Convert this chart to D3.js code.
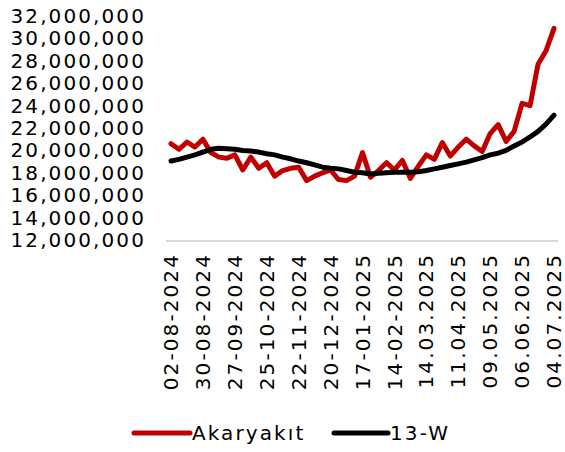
<!DOCTYPE html>
<html><head><meta charset="utf-8">
<script src="https://cdn.jsdelivr.net/npm/d3@7"></script>
<style>
html,body{margin:0;padding:0;background:#fff;}
svg{display:block;}
text{font-family:"DejaVu Sans",sans-serif;fill:#000;}
</style></head>
<body>
<script>
const dates = ["02-08-2024","09-08-2024","16-08-2024","23-08-2024","30-08-2024","06-09-2024","13-09-2024","20-09-2024","27-09-2024","04-10-2024","11-10-2024","18-10-2024","25-10-2024","01-11-2024","08-11-2024","15-11-2024","22-11-2024","29-11-2024","06-12-2024","13-12-2024","20-12-2024","27-12-2024","03-01-2025","10-01-2025","17-01-2025","24-01-2025","31-01-2025","07-02-2025","14-02-2025","21.02.2025","28.02.2025","07.03.2025","14.03.2025","21.03.2025","28.03.2025","04.04.2025","11.04.2025","18.04.2025","25.04.2025","02.05.2025","09.05.2025","16.05.2025","23.05.2025","30.05.2025","06.06.2025","13.06.2025","20.06.2025","27.06.2025","04.07.2025"];
const tickLabels = ["02-08-2024","30-08-2024","27-09-2024","25-10-2024","22-11-2024","20-12-2024","17-01-2025","14-02-2025","14.03.2025","11.04.2025","09.05.2025","06.06.2025","04.07.2025"];
const akaryakit = [20600000,20100000,20750000,20300000,21000000,19800000,19400000,19300000,19600000,18250000,19400000,18400000,18900000,17700000,18200000,18400000,18500000,17300000,17700000,18000000,18250000,17400000,17300000,17700000,19800000,17600000,18200000,18900000,18250000,19100000,17500000,18600000,19600000,19200000,20700000,19500000,20300000,21000000,20400000,19900000,21500000,22300000,20800000,21700000,24200000,24000000,27700000,28900000,30900000];
const w13 = [19050000,19200000,19400000,19600000,19850000,20100000,20200000,20150000,20100000,20000000,19950000,19850000,19700000,19600000,19400000,19250000,19050000,18900000,18700000,18500000,18400000,18350000,18200000,18050000,18000000,17900000,17950000,18000000,18050000,18050000,18050000,18100000,18200000,18350000,18500000,18650000,18800000,18950000,19150000,19350000,19600000,19750000,20000000,20400000,20750000,21200000,21700000,22350000,23150000];
const yTicks = [12000000,14000000,16000000,18000000,20000000,22000000,24000000,26000000,28000000,30000000,32000000];
const seriesNames = ["Akaryakıt","13-W"];
const colors = ["#C00000","#000000"];

const W = 565, H = 452;
const svg = d3.select("body").append("svg").attr("width", W).attr("height", H);

const x = d3.scalePoint().domain(dates).range([171, 554]);
const y = d3.scaleLinear().domain([12000000, 32000000]).range([240, 16]);

const fontSize = 20, ls = 2.1;
const fmt = d3.format(",");

// baseline
svg.append("line").attr("x1", 166).attr("x2", 558).attr("y1", 241).attr("y2", 241)
  .attr("stroke", "#d9d9d9").attr("stroke-width", 2);

// y axis labels
const yAxis = d3.axisLeft(y).tickValues(yTicks).tickFormat(fmt).tickSize(0).tickPadding(0);
const gy = svg.append("g").attr("transform", "translate(146,0)").call(yAxis);
gy.select(".domain").remove();
gy.selectAll("text").style("font-size", fontSize + "px").style("letter-spacing", ls + "px")
  .style("font-family", "DejaVu Sans").attr("fill", "#000");

// x axis labels
const labelMap = {};
tickLabels.forEach(t => { labelMap[t.replace(/\./g, "-")] = t; });
const xAxis = d3.axisBottom(x).tickValues(dates.filter(d => labelMap[d.replace(/\./g, "-")]))
  .tickFormat(d => labelMap[d.replace(/\./g, "-")]).tickSize(0).tickPadding(0);
const gx = svg.append("g").attr("transform", "translate(0,253)").call(xAxis);
gx.select(".domain").remove();
gx.selectAll(".tick text").style("font-size", fontSize + "px").style("letter-spacing", ls + "px")
  .style("font-family", "DejaVu Sans").attr("fill", "#000")
  .attr("transform", "rotate(-90)").attr("text-anchor", "end")
  .attr("x", 0).attr("y", 0).attr("dy", "0.33em");

const line = d3.line().x((d, i) => x(dates[i])).y(d => y(d)).curve(d3.curveLinear);

[akaryakit, w13].forEach((s, k) => {
  svg.append("path").datum(s).attr("d", line).attr("fill", "none")
    .attr("stroke", colors[k]).attr("stroke-width", 5).attr("stroke-linejoin", "round").attr("stroke-linecap", "round");
});

// legend
const legend = [{x1: 134, x2: 190, tx: 192}, {x1: 334, x2: 388, tx: 390}];
seriesNames.forEach((n, k) => {
  svg.append("line").attr("x1", legend[k].x1).attr("x2", legend[k].x2).attr("y1", 433).attr("y2", 433)
    .attr("stroke", colors[k]).attr("stroke-width", 5).attr("stroke-linecap", "round");
  svg.append("text").attr("x", legend[k].tx).attr("y", 433).attr("dy", "0.35em")
    .style("font-size", fontSize + "px").style("letter-spacing", ls + "px").text(n);
});
</script>
</body></html>
